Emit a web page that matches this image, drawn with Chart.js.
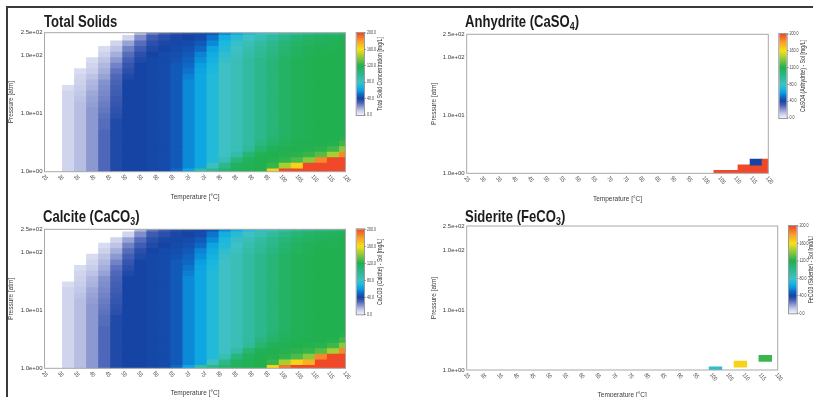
<!DOCTYPE html>
<html>
<head>
<meta charset="utf-8">
<script src="https://cdn.jsdelivr.net/npm/chart.js@4.4.1/dist/chart.umd.min.js"></script>
<style>
  html, body { margin: 0; padding: 0; background: #fff; }
  body { width: 813px; height: 397px; position: relative; overflow: hidden; font-family: 'Liberation Sans', Arial, sans-serif; }
  .marco { position: absolute; left: 6px; top: 6px; right: -4px; bottom: -4px; border-top: 2px solid #3a3a3a; border-left: 2px solid #3a3a3a; }
  canvas { position: absolute; }
  .titulo { position: absolute; font-weight: bold; font-size: 17px; line-height: 17px; color: #1c1c1c; white-space: nowrap; transform: scaleX(0.77); transform-origin: 0 0; }
  .titulo sub { font-size: 0.68em; line-height: 0; vertical-align: -0.3em; }
</style>
</head>
<body>
<div class="marco"></div>
<canvas id="gTotal" width="406" height="200" style="left:0;top:8px"></canvas>
<canvas id="gAnhidrita" width="407" height="200" style="left:406px;top:8px"></canvas>
<canvas id="gCalcita" width="406" height="197" style="left:0;top:200px"></canvas>
<canvas id="gSiderita" width="407" height="201" style="left:406px;top:200px"></canvas>
<div class="titulo" style="left:43.5px;top:12.9px">Total Solids</div>
<div class="titulo" style="left:465px;top:12.9px">Anhydrite (CaSO<sub>4</sub>)</div>
<div class="titulo" style="left:43.3px;top:207.7px">Calcite (CaCO<sub>3</sub>)</div>
<div class="titulo" style="left:465px;top:207.7px">Siderite (FeCO<sub>3</sub>)</div>
<script>
// Malla de la simulación: 26 temperaturas x 26 presiones (presiones de arriba hacia abajo)
const temperaturas = [25, 28.8, 32.6, 36.4, 40.2, 44, 47.8, 51.6, 55.4, 59.2, 63, 66.8, 70.6,
  74.4, 78.2, 82, 85.8, 89.6, 93.4, 97.2, 101, 104.8, 108.6, 112.4, 116.2, 120];
const presiones = [250, 200, 161, 129, 103, 82.9, 66.4, 53.2, 42.7, 34.2, 27.5, 22.0, 17.7,
  14.2, 11.3, 9.10, 7.29, 5.85, 4.69, 3.76, 3.02, 2.42, 1.94, 1.56, 1.25, 1];

const ticksTemperatura = [25, 30, 35, 40, 45, 50, 55, 60, 65, 70, 75, 80, 85, 90, 95, 100, 105, 110, 115, 120];
const ticksPresion = [1, 10, 100, 250];
const etiquetasPresion = ['1.0e+00', '1.0e+01', '1.0e+02', '2.5e+02'];
const ticksBarra = [0, 40, 80, 120, 160, 200];
const etiquetasBarra = ['0.0', '40.0', '80.0', '120.0', '160.0', '200.0'];

// Concentración de sólidos totales [mg/L], una fila por presión (250 atm arriba)
const solidosTotales = [
  [0,0,0,0,0,0,0,0,14,26,32,36,38,42,45,56,65,72,78,84,90,96,100,104,106,108],
  [0,0,0,0,0,0,0,8,22,32,36,39,40,42,52,66,74,80,86,94,102,108,112,114,116,117],
  [0,0,0,0,0,0,8,18,28,36,39,41,42,46,56,70,78,85,92,100,107,112,115,117,118,119],
  [0,0,0,0,0,6,12,24,32,38,40,42,44,50,62,72,80,88,95,102,110,114,117,119,119,120],
  [0,0,0,0,0,9,16,28,36,40,42,43,46,55,65,76,82,90,97,104,111,115,118,120,120,120],
  [0,0,0,0,6,12,20,31,38,41,42,44,48,57,67,78,85,92,100,107,113,117,119,120,120,120],
  [0,0,0,0,8,14,24,34,40,41,42,46,50,60,69,80,85,92,100,107,113,117,119,120,120,120],
  [0,0,0,6,10,16,27,36,40,41,42,46,52,62,70,80,85,92,100,107,113,117,119,120,120,120],
  [0,0,0,8,12,18,29,38,40,41,42,46,54,63,72,80,85,92,100,107,113,117,119,120,120,120],
  [0,0,0,9,14,21,30,40,40,41,42,46,56,63,72,80,85,92,100,107,113,117,119,120,120,120],
  [0,0,6,10,15,22,31,40,40,41,42,46,56,63,72,80,85,92,100,107,113,117,119,120,120,120],
  [0,0,8,11,17,23,32,40,40,41,42,46,56,63,72,80,85,92,100,107,113,117,119,120,120,120],
  [0,0,8,12,18,24,33,40,40,41,42,46,56,63,72,80,85,92,100,107,113,117,119,120,120,120],
  [0,0,8,13,19,25,34,40,40,41,42,46,56,63,72,80,85,92,100,107,113,117,119,120,120,120],
  [0,0,8,13,20,26,35,40,40,41,42,46,56,63,72,80,85,92,100,107,113,117,119,120,120,120],
  [0,0,8,13,20,27,36,40,40,41,42,46,56,63,72,80,85,92,100,107,113,117,119,120,120,120],
  [0,0,8,13,20,28,38,40,40,41,42,46,56,63,72,80,85,92,100,107,113,117,119,120,120,120],
  [0,0,8,13,20,28,38,40,40,41,42,46,56,63,72,80,85,92,100,107,113,117,119,120,120,120],
  [0,0,8,13,20,29,38,40,40,41,42,46,56,63,72,80,85,92,100,107,113,117,119,120,120,120],
  [0,0,8,13,20,29,38,40,40,41,42,46,56,63,72,80,85,92,100,109,114,118,119,120,120,121],
  [0,0,8,13,20,29,38,40,40,41,42,46,56,63,72,80,85,92,104,112,116,119,120,120,121,126],
  [0,0,8,13,20,29,38,40,40,41,42,46,56,63,72,80,85,96,110,117,119,120,121,122,126,140],
  [0,0,8,13,20,29,38,40,40,41,42,46,56,63,72,80,90,108,118,120,121,122,124,130,145,185],
  [0,0,8,13,20,29,38,40,40,41,42,46,56,63,72,86,105,116,120,121,123,128,140,185,200,200],
  [0,0,8,13,20,29,38,40,40,41,42,46,56,63,82,100,115,118,120,124,145,165,200,200,200,200],
  [0,0,8,13,20,29,38,40,40,41,42,50,62,90,100,110,116,118,120,165,200,200,200,200,200,200]
];

// CaCO3 (calcita) [mg/L], misma malla
const calcita = [
  [0,0,0,0,0,0,0,0,14,26,32,36,38,42,45,56,65,72,78,84,90,96,100,104,106,108],
  [0,0,0,0,0,0,0,8,22,32,36,39,40,42,52,66,74,80,86,94,102,108,112,114,116,117],
  [0,0,0,0,0,0,8,18,28,36,39,41,42,46,56,70,78,85,92,100,107,112,115,117,118,119],
  [0,0,0,0,0,6,12,24,32,38,40,42,44,50,62,72,80,88,95,102,110,114,117,119,119,120],
  [0,0,0,0,0,9,16,28,36,40,42,43,46,55,65,76,82,90,97,104,111,115,118,120,120,120],
  [0,0,0,0,6,12,20,31,38,41,42,44,48,57,67,78,85,92,100,107,113,117,119,120,120,120],
  [0,0,0,0,8,14,24,34,40,41,42,46,50,60,69,80,85,92,100,107,113,117,119,120,120,120],
  [0,0,0,6,10,16,27,36,40,41,42,46,52,62,70,80,85,92,100,107,113,117,119,120,120,120],
  [0,0,0,8,12,18,29,38,40,41,42,46,54,63,72,80,85,92,100,107,113,117,119,120,120,120],
  [0,0,0,9,14,21,30,40,40,41,42,46,56,63,72,80,85,92,100,107,113,117,119,120,120,120],
  [0,0,6,10,15,22,31,40,40,41,42,46,56,63,72,80,85,92,100,107,113,117,119,120,120,120],
  [0,0,8,11,17,23,32,40,40,41,42,46,56,63,72,80,85,92,100,107,113,117,119,120,120,120],
  [0,0,8,12,18,24,33,40,40,41,42,46,56,63,72,80,85,92,100,107,113,117,119,120,120,120],
  [0,0,8,13,19,25,34,40,40,41,42,46,56,63,72,80,85,92,100,107,113,117,119,120,120,120],
  [0,0,8,13,20,26,35,40,40,41,42,46,56,63,72,80,85,92,100,107,113,117,119,120,120,120],
  [0,0,8,13,20,27,36,40,40,41,42,46,56,63,72,80,85,92,100,107,113,117,119,120,120,120],
  [0,0,8,13,20,28,38,40,40,41,42,46,56,63,72,80,85,92,100,107,113,117,119,120,120,120],
  [0,0,8,13,20,28,38,40,40,41,42,46,56,63,72,80,85,92,100,107,113,117,119,120,120,120],
  [0,0,8,13,20,29,38,40,40,41,42,46,56,63,72,80,85,92,100,107,113,117,119,120,120,120],
  [0,0,8,13,20,29,38,40,40,41,42,46,56,63,72,80,85,92,100,109,114,118,119,120,120,121],
  [0,0,8,13,20,29,38,40,40,41,42,46,56,63,72,80,85,92,104,112,116,119,120,120,121,126],
  [0,0,8,13,20,29,38,40,40,41,42,46,56,63,72,80,85,96,110,117,119,120,121,122,126,140],
  [0,0,8,13,20,29,38,40,40,41,42,46,56,63,72,80,90,108,118,120,121,122,124,130,145,185],
  [0,0,8,13,20,29,38,40,40,41,42,46,56,63,72,86,105,116,120,121,123,128,140,185,200,200],
  [0,0,8,13,20,29,38,40,40,41,42,46,56,63,82,100,115,118,120,124,145,165,175,200,200,200],
  [0,0,8,13,20,29,38,40,40,41,42,50,62,90,100,110,116,118,120,165,190,200,200,200,200,200]
];

// Anhidrita y siderita: sólo unas pocas celdas con precipitado
const anhidritaTemp = [104.8, 108.6, 112.4, 116.2, 120, 112.4, 116.2, 120, 116.2, 120];
const anhidritaPres = [1, 1, 1, 1, 1, 1.25, 1.25, 1.25, 1.56, 1.56];
const anhidritaValor = [200, 200, 200, 200, 200, 200, 200, 200, 40, 200];

const sideritaTemp = [101, 108.6, 116.2];
const sideritaPres = [1, 1.25, 1.56];
const sideritaValor = [75, 165, 125];

// Escala de color (0 -> 200 mg/L), igual a la barra lateral
const ESCALA_COLOR = [
  [0, [238, 240, 250]], [10, [200, 206, 234]], [20, [140, 152, 208]], [30, [72, 98, 182]],
  [40, [22, 68, 164]], [50, [16, 104, 198]], [60, [8, 160, 226]], [70, [28, 184, 222]],
  [80, [62, 192, 196]], [100, [44, 184, 140]], [120, [32, 176, 80]], [140, [140, 200, 60]],
  [160, [246, 226, 20]], [180, [248, 160, 40]], [200, [240, 72, 40]]
];
const MAX_ESCALA = 200;

function fuenteDisponible(nombre) {
  const c = document.createElement('canvas').getContext('2d');
  c.font = '20px monospace';
  const a = c.measureText('Temperature 0123456789').width;
  c.font = `20px '${nombre}', monospace`;
  return c.measureText('Temperature 0123456789').width !== a;
}
const HAY_ESTRECHA = fuenteDisponible('Liberation Sans Narrow');
const FUENTE = HAY_ESTRECHA ? "'Liberation Sans Narrow', 'Liberation Sans', Arial, sans-serif" : "'Liberation Sans', Arial, sans-serif";
const COMPRESION = HAY_ESTRECHA ? 1 : 0.8;
const ANGULO_X = 50 * Math.PI / 180;

Chart.defaults.font.family = FUENTE;
Chart.defaults.color = '#3a3a3a';

function colorDeValor(v) {
  for (let i = 1; i < ESCALA_COLOR.length; i++) {
    const [v0, c0] = ESCALA_COLOR[i - 1];
    const [v1, c1] = ESCALA_COLOR[i];
    if (v <= v1) {
      const f = Math.max(0, (v - v0) / (v1 - v0));
      return `rgb(${c0.map((c, k) => Math.round(c + (c1[k] - c) * f)).join(',')})`;
    }
  }
  return `rgb(${ESCALA_COLOR[ESCALA_COLOR.length - 1][1].join(',')})`;
}

// Bordes (media geométrica con la presión vecina) de la celda centrada en p
function limitesPresion(p) {
  const r = presiones.indexOf(p);
  const arriba = r > 0 ? presiones[r - 1] : p * p / presiones[r + 1];
  const abajo = r < presiones.length - 1 ? presiones[r + 1] : p * p / presiones[r - 1];
  return [Math.sqrt(p * abajo), Math.sqrt(p * arriba)];
}

function celdasDeMalla(filas) {
  const t = [], p = [], v = [];
  filas.forEach((fila, r) => fila.forEach((valor, c) => {
    if (valor > 0) { t.push(temperaturas[c]); p.push(presiones[r]); v.push(valor); }
  }));
  return { t, p, v };
}

const pluginPanel = {
  id: 'panel',
  afterDatasetsDraw(chart, args, opts) {
    const { ctx, chartArea: a } = chart;
    const escalaX = chart.scales.x;
    ctx.save();
    ctx.strokeStyle = '#a8a8a8';
    ctx.lineWidth = 1;
    ctx.strokeRect(a.left, a.top, a.right - a.left, a.bottom - a.top);

    // etiquetas del eje X, giradas en sentido horario
    ctx.fillStyle = '#3a3a3a';
    ctx.font = `6px ${FUENTE}`;
    ctx.textAlign = 'left';
    ctx.textBaseline = 'middle';
    escalaX.ticks.forEach(t => {
      ctx.save();
      ctx.translate(escalaX.getPixelForValue(t.value) - 1.5, a.bottom + 4);
      ctx.rotate(ANGULO_X);
      ctx.scale(COMPRESION, 1);
      ctx.fillText(String(t.value), 0, 0);
      ctx.restore();
    });

    // barra de color
    const b = opts.barra;
    const grad = ctx.createLinearGradient(0, b.top + b.alto, 0, b.top);
    ESCALA_COLOR.forEach(([v, c]) => grad.addColorStop(v / MAX_ESCALA, `rgb(${c.join(',')})`));
    ctx.fillStyle = grad;
    ctx.fillRect(b.left, b.top, b.ancho, b.alto);
    ctx.strokeStyle = '#9a9a9a';
    ctx.strokeRect(b.left - 0.5, b.top - 0.5, b.ancho + 1, b.alto + 1);
    ctx.fillStyle = '#444';
    ctx.font = `4.5px ${FUENTE}`;
    ticksBarra.forEach((v, i) => {
      const y = b.top + b.alto - (v / MAX_ESCALA) * b.alto;
      ctx.fillRect(b.left + b.ancho + 0.5, y - 0.25, 1.5, 0.5);
      ctx.save();
      ctx.translate(b.etiquetaX, y);
      ctx.scale(COMPRESION, 1);
      ctx.fillText(etiquetasBarra[i], 0, 0);
      ctx.restore();
    });
    ctx.save();
    ctx.translate(b.tituloX, b.top + b.alto / 2);
    ctx.rotate(-Math.PI / 2);
    ctx.scale(COMPRESION, 1);
    ctx.textAlign = 'center';
    ctx.fillStyle = '#2a2a2a';
    ctx.font = `6.5px ${FUENTE}`;
    ctx.fillText(b.titulo, 0, 0);
    ctx.restore();
    ctx.restore();
  }
};

/**
 * Mapa de calor T-P con barras flotantes: cada celda es una barra [p_inf, p_sup]
 * centrada en su temperatura, sobre un eje Y logarítmico.
 */
function crearMapaCalor(canvasId, celdas, geo) {
  const datos = celdas.t.map((t, i) => ({ x: t, y: limitesPresion(celdas.p[i]) }));
  const colores = celdas.v.map(colorDeValor);
  // columnas vacías para que el ancho de barra sea el paso de la malla
  temperaturas.forEach(t => { datos.push({ x: t, y: null }); colores.push('rgba(0,0,0,0)'); });

  return new Chart(document.getElementById(canvasId), {
    type: 'bar',
    data: {
      datasets: [{
        data: datos,
        backgroundColor: colores,
        borderWidth: 0,
        inflateAmount: 0.5,
        grouped: false,
        barPercentage: 1,
        categoryPercentage: 1
      }]
    },
    options: {
      responsive: false,
      devicePixelRatio: 1,
      animation: false,
      events: [],
      layout: { padding: { left: 0, top: geo.arriba, right: geo.derecha, bottom: 0 } },
      plugins: {
        legend: { display: false },
        tooltip: { enabled: false },
        panel: { barra: geo.barra }
      },
      scales: {
        x: {
          type: 'linear',
          min: 25,
          max: 120,
          offset: false,
          grid: { display: false, drawTicks: false },
          border: { display: false },
          ticks: { display: false },
          afterBuildTicks: (s) => { s.ticks = ticksTemperatura.map(v => ({ value: v })); },
          afterFit: (s) => { s.height = geo.altoX; },
          title: {
            display: true, text: 'Temperature [°C]', color: '#3a3a3a',
            font: { size: 6.5 }, padding: { top: 0, bottom: geo.padTituloX }
          }
        },
        y: {
          type: 'logarithmic',
          min: 1,
          max: 250,
          grid: { display: false, drawTicks: false },
          border: { display: false },
          afterBuildTicks: (s) => { s.ticks = ticksPresion.map(v => ({ value: v })); },
          afterFit: (s) => { s.width = geo.anchoY; },
          ticks: {
            autoSkip: false, padding: 2, color: '#3a3a3a', font: { size: 6 },
            callback: (valor, i) => etiquetasPresion[i]
          },
          title: {
            display: true, text: 'Pressure [atm]', color: '#3a3a3a',
            font: { size: 6.5 }, padding: { top: geo.padTituloY, bottom: 0 }
          }
        }
      }
    },
    plugins: [pluginPanel]
  });
}

crearMapaCalor('gTotal', celdasDeMalla(solidosTotales), {
  arriba: 24.7, derecha: 60.5, anchoY: 44.5, altoX: 36.3, padTituloY: 7.8, padTituloX: 6.6,
  barra: { left: 356.7, top: 25, ancho: 7.3, alto: 82, etiquetaX: 367, tituloX: 380, titulo: 'Total Solid Concentration [mg/L]' }
});
crearMapaCalor('gAnhidrita', { t: anhidritaTemp, p: anhidritaPres, v: anhidritaValor }, {
  arriba: 26.3, derecha: 44.7, anchoY: 60.7, altoX: 34.7, padTituloY: 24.1, padTituloX: 4.6,
  barra: { left: 373.3, top: 26, ancho: 7.4, alto: 84, etiquetaX: 383.5, tituloX: 397, titulo: 'CaSO4 (Anhydrite) - Sol [mg/L]' }
});
crearMapaCalor('gCalcita', celdasDeMalla(calcita), {
  arriba: 29.3, derecha: 60.5, anchoY: 44.5, altoX: 28.7, padTituloY: 7.8, padTituloX: 0,
  barra: { left: 356.7, top: 29.3, ancho: 7.3, alto: 85, etiquetaX: 367, tituloX: 380, titulo: 'CaCO3 (Calcite) - Sol [mg/L]' }
});
crearMapaCalor('gSiderita', { t: sideritaTemp, p: sideritaPres, v: sideritaValor }, {
  arriba: 26, derecha: 35.3, anchoY: 60.7, altoX: 31, padTituloY: 24.1, padTituloX: 1.6,
  barra: { left: 383, top: 26, ancho: 7.7, alto: 87.3, etiquetaX: 393.5, tituloX: 405, titulo: 'FeCO3 (Siderite) - Sol [mg/L]' }
});
</script>
</body>
</html>
